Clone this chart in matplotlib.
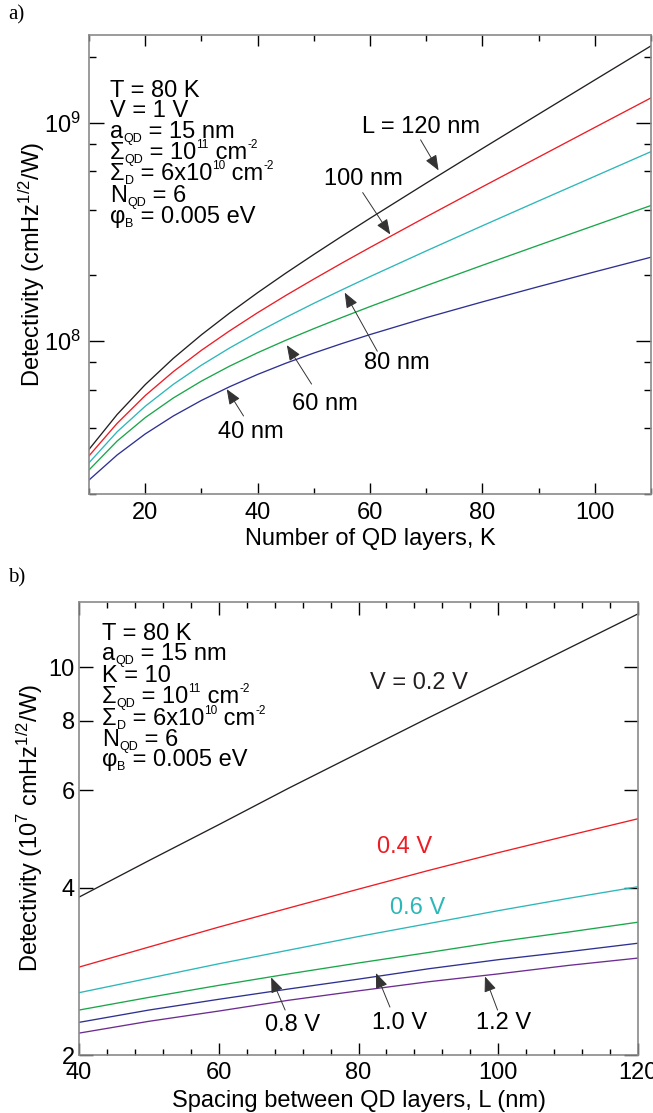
import matplotlib
matplotlib.use("Agg")
import matplotlib.pyplot as plt
from matplotlib.ticker import MultipleLocator, NullFormatter, NullLocator
from matplotlib.transforms import IdentityTransform

plt.rcParams.update({
    "font.family": ["Liberation Sans", "DejaVu Sans"],
    "font.size": 17,
    "mathtext.fontset": "custom",
    "mathtext.rm": "Liberation Sans",
    "mathtext.it": "Liberation Sans:italic",
    "mathtext.bf": "Liberation Sans:bold",
    "mathtext.default": "regular",
})

# --- panel a: detectivity vs number of QD layers K, one curve per spacing L
k_layers = [10, 15, 20, 25, 30, 35, 40, 45, 50, 55, 60, 70, 80, 90, 100, 110]
det_L120 = [3.20e7, 4.62e7, 6.33e7, 8.35e7, 1.070e8, 1.345e8, 1.668e8, 2.048e8,
            2.495e8, 3.025e8, 3.653e8, 5.29e8, 7.62e8, 1.094e9, 1.569e9, 2.247e9]
det_L100 = [2.99e7, 4.21e7, 5.64e7, 7.26e7, 9.09e7, 1.115e8, 1.351e8, 1.619e8,
            1.925e8, 2.279e8, 2.686e8, 3.708e8, 5.09e8, 6.96e8, 9.515e8, 1.299e9]
det_L80 = [2.78e7, 3.85e7, 5.04e7, 6.35e7, 7.77e7, 9.31e7, 1.099e8, 1.285e8,
           1.491e8, 1.719e8, 1.976e8, 2.590e8, 3.376e8, 4.385e8, 5.686e8, 7.374e8]
det_L60 = [2.576e7, 3.493e7, 4.472e7, 5.50e7, 6.57e7, 7.69e7, 8.86e7, 1.010e8,
           1.142e8, 1.285e8, 1.441e8, 1.796e8, 2.226e8, 2.750e8, 3.391e8, 4.18e8]
det_L40 = [2.317e7, 3.016e7, 3.765e7, 4.55e7, 5.36e7, 6.19e7, 7.05e7, 7.93e7,
           8.83e7, 9.76e7, 1.073e8, 1.282e8, 1.514e8, 1.778e8, 2.078e8, 2.424e8]

# --- panel b: detectivity (1e7 units) vs spacing L, one curve per bias V
spacing = [40, 50, 60, 70, 80, 90, 100, 110, 120]
det_V02 = [3.85, 4.48, 5.2, 6.05, 7.0, 8.1, 9.35, 10.8, 12.47]
det_V04 = [2.88, 3.13, 3.40, 3.68, 3.98, 4.3, 4.63, 4.97, 5.33]
det_V06 = [2.59, 2.75, 2.92, 3.09, 3.27, 3.45, 3.64, 3.83, 4.02]
det_V08 = [2.41, 2.54, 2.67, 2.80, 2.93, 3.06, 3.2, 3.33, 3.47]
det_V10 = [2.29, 2.41, 2.52, 2.63, 2.74, 2.86, 2.97, 3.07, 3.18]
det_V12 = [2.19, 2.30, 2.40, 2.51, 2.61, 2.71, 2.80, 2.90, 2.99]

BLACK, RED, CYAN, GREEN = "#231f20", "#ed1c24", "#2cb7b9", "#1aa64a"
BLUE, PURPLE = "#2e3192", "#6c2d91"

W, H = 653, 1113
def fx(x): return x / W
def fy(y): return 1 - y / H

fig = plt.figure(figsize=(W / 100, H / 100), dpi=100)
ax1 = fig.add_axes([fx(89), fy(494), (651 - 89) / W, (494 - 35) / H])
ax2 = fig.add_axes([fx(79), fy(1055), (638 - 79) / W, (1055 - 602) / H])

arrow = dict(arrowstyle="-|>,head_length=0.55,head_width=0.22", color="#333333",
             lw=0.7, shrinkA=0, shrinkB=0)

# panel a
for vals, c in [(det_L120, BLACK), (det_L100, RED), (det_L80, CYAN),
                (det_L60, GREEN), (det_L40, BLUE)]:
    ax1.plot(k_layers, vals, color=c, lw=0.95)
ax1.set_yscale("log")
ax1.set_xlim(10, 110)
ax1.set_ylim(2.02e7, 2.52e9)
ax1.set_xticks([20, 40, 60, 80, 100])
ax1.xaxis.set_minor_locator(MultipleLocator(10))
ax1.set_yticks([1e8, 1e9], [r"$10^{8}$", r"$10^{9}$"])
ax1.set_yticks([2e7, 4e7, 6e7, 8e7, 2e8, 4e8, 6e8, 8e8, 2e9], minor=True)
ax1.yaxis.set_minor_formatter(NullFormatter())
ax1.set_xlabel("Number of QD layers, K", labelpad=3)
ax1.set_ylabel(r"Detectivity (cmHz$^{1/2}$/W)")
ax1.yaxis.set_label_coords(-0.075, 0.5)

ax1.text(58.6, 9.6e8, "L = 120 nm", va="center")
ax1.text(51.9, 5.5e8, "100 nm", va="center")
ax1.text(59.0, 7.94e7, "80 nm", va="center")
ax1.text(46.2, 5.15e7, "60 nm", va="center")
ax1.text(32.9, 3.84e7, "40 nm", va="center")
for tip, tail in [((72.2, 6.05e8), (69.0, 8.35e8)), ((63.6, 3.08e8), (58.7, 4.79e8)),
                  ((55.5, 1.67e8), (61.3, 9.0e7)), ((45.2, 9.6e7), (49.6, 6.37e7)),
                  ((34.5, 6.04e7), (37.5, 4.55e7))]:
    ax1.annotate("", xy=tip, xytext=tail, arrowprops=arrow)

# panel b
for vals, c in [(det_V02, BLACK), (det_V04, RED), (det_V06, CYAN),
                (det_V08, GREEN), (det_V10, BLUE), (det_V12, PURPLE)]:
    ax2.plot(spacing, vals, color=c, lw=0.95)
ax2.set_yscale("log")
ax2.set_xlim(40, 120)
ax2.set_ylim(2, 13.1)
ax2.set_xticks([40, 60, 80, 100, 120])
ax2.xaxis.set_minor_locator(MultipleLocator(4))
ax2.set_yticks([2, 4, 6, 8, 10], ["2", "4", "6", "8", "10"])
ax2.yaxis.set_minor_locator(NullLocator())
ax2.set_xlabel("Spacing between QD layers, L (nm)", labelpad=4)
ax2.set_ylabel(r"Detectivity (10$^{7}$ cmHz$^{1/2}$/W)")
ax2.yaxis.set_label_coords(-0.061, 0.5)

ax2.text(81.6, 9.36, "V = 0.2 V", va="center", color=BLACK)
ax2.text(82.6, 4.74, "0.4 V", va="center", color=RED)
ax2.text(84.5, 3.68, "0.6 V", va="center", color=CYAN)
ax2.text(66.6, 2.265, "0.8 V", va="center")
ax2.text(81.9, 2.28, "1.0 V", va="center")
ax2.text(96.8, 2.28, "1.2 V", va="center")
for tip, tail in [((67.5, 2.76), (69.5, 2.41)), ((82.5, 2.81), (84.5, 2.44)),
                  ((98.1, 2.77), (99.9, 2.41))]:
    ax2.annotate("", xy=tip, xytext=tail, arrowprops=arrow)

for ax in (ax1, ax2):
    for s in ax.spines.values():
        s.set_color("#8a8a8a")
        s.set_linewidth(1.2)
    ax.tick_params(which="both", direction="in", top=True, right=True,
                   width=1.0, color="black")
ax1.tick_params(axis="x", which="major", length=8, pad=6)
ax1.tick_params(axis="x", which="minor", length=4)
ax1.tick_params(axis="y", which="major", length=11, pad=6)
ax1.tick_params(axis="y", which="minor", length=5)
ax2.tick_params(axis="x", which="major", length=9, pad=5)
ax2.tick_params(axis="x", which="minor", length=4)
ax2.tick_params(axis="y", which="major", length=10, pad=3)

# parameter blocks, drawn piece by piece so sub/superscripts stay small
renderer = fig.canvas.get_renderer()
STYLE = {"n": (17, 0), "sub": (9, -4), "sup": (8.5, 11)}

def rich(x, y, parts):
    cx = x
    for s, kind in parts:
        size, dy = STYLE[kind]
        t = fig.text(cx, H - y + dy, s, transform=IdentityTransform(),
                     fontsize=size, va="baseline", ha="left")
        cx = t.get_window_extent(renderer).x1

SIG, PHI = "\u03a3", "\u03c6"
line_T = [("T = 80 K", "n")]
line_V = [("V = 1 V", "n")]
line_K = [("K = 10", "n")]
line_a = [("a", "n"), ("QD", "sub"), (" = 15 nm", "n")]
line_sqd = [(SIG, "n"), ("QD", "sub"), (" = 10", "n"), ("11", "sup"), (" cm", "n"), ("-2", "sup")]
line_sd = [(SIG, "n"), ("D", "sub"), (" = 6x10", "n"), ("10", "sup"), (" cm", "n"), ("-2", "sup")]
line_n = [("N", "n"), ("QD", "sub"), (" = 6", "n")]
line_phi = [(PHI, "n"), ("B", "sub"), (" = 0.005 eV", "n")]

block_a = [line_T, line_V, line_a, line_sqd, line_sd, line_n, line_phi]
base_a = [97, 117, 138, 159, 180, 202, 223]
for parts, y in zip(block_a, base_a):
    rich(110, y, parts)

block_b = [line_T, line_a, line_K, line_sqd, line_sd, line_n, line_phi]
base_b = [640, 660, 682, 703, 725, 746, 766]
for parts, y in zip(block_b, base_b):
    rich(102, y, parts)

fig.text(fx(8), fy(15), "a)", family="Liberation Serif", fontsize=15, va="center")
fig.text(fx(8), fy(578), "b)", family="Liberation Serif", fontsize=15, va="center")

fig.savefig("out.png", dpi=100)
